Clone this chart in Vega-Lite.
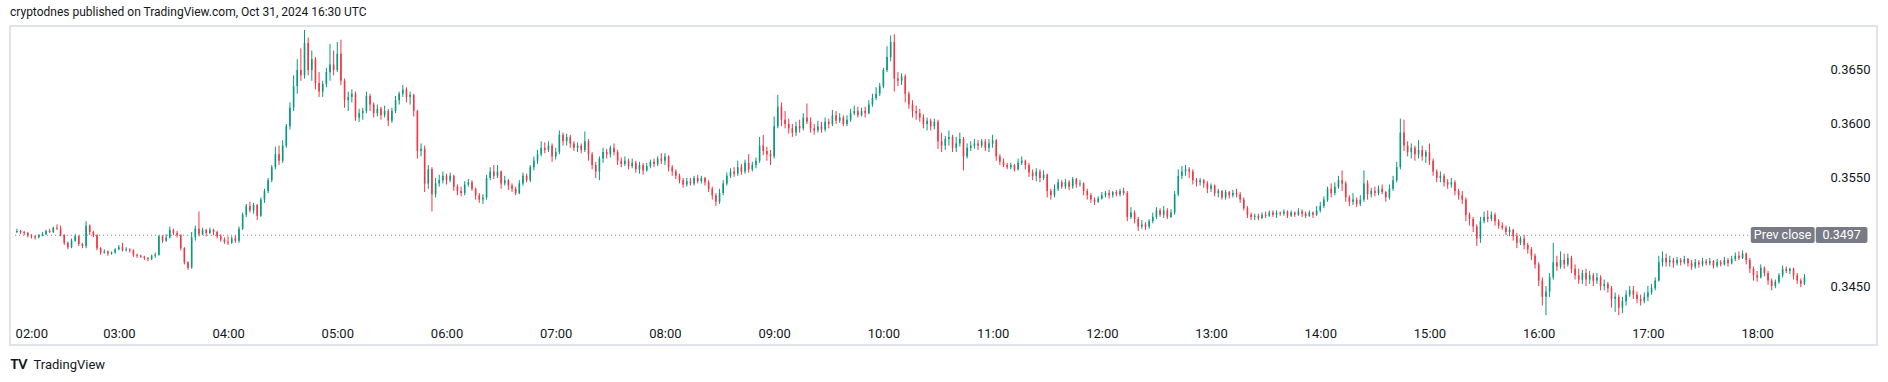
{
"$schema": "https://vega.github.io/schema/vega-lite/v6.json",
"width": 1867,
"height": 319,
"autosize": {"type": "none"},
"padding": {"left": 10, "top": 26, "right": 11, "bottom": 37},
"background": "#ffffff",
"title": {"text": "cryptodnes published on TradingView.com, Oct 31, 2024 16:30 UTC", "anchor": "start", "frame": "group", "offset": 7, "fontSize": 12, "fontWeight": "normal", "color": "#131722", "font": "Roboto"},
"config": {"font": "Roboto", "view": {"stroke": "#e0e3eb", "strokeWidth": 2}},
"datasets": {
"k": [
{"t":124,"o":3500,"h":3503,"l":3499,"c":3501},
{"t":126,"o":3501,"h":3502,"l":3498,"c":3500},
{"t":128,"o":3500,"h":3501,"l":3497,"c":3499},
{"t":130,"o":3499,"h":3500,"l":3495,"c":3497},
{"t":132,"o":3497,"h":3498,"l":3494,"c":3496},
{"t":134,"o":3496,"h":3497,"l":3493,"c":3495},
{"t":136,"o":3495,"h":3498,"l":3494,"c":3497},
{"t":138,"o":3497,"h":3500,"l":3496,"c":3498},
{"t":140,"o":3498,"h":3502,"l":3497,"c":3501},
{"t":142,"o":3501,"h":3503,"l":3499,"c":3500},
{"t":144,"o":3500,"h":3505,"l":3499,"c":3504},
{"t":146,"o":3504,"h":3507,"l":3502,"c":3503},
{"t":148,"o":3503,"h":3506,"l":3496,"c":3497},
{"t":150,"o":3497,"h":3498,"l":3488,"c":3490},
{"t":152,"o":3490,"h":3491,"l":3484,"c":3486},
{"t":154,"o":3486,"h":3494,"l":3485,"c":3492},
{"t":156,"o":3492,"h":3498,"l":3491,"c":3496},
{"t":158,"o":3496,"h":3497,"l":3487,"c":3489},
{"t":160,"o":3489,"h":3490,"l":3485,"c":3487},
{"t":162,"o":3487,"h":3510,"l":3485,"c":3506},
{"t":164,"o":3506,"h":3507,"l":3497,"c":3500},
{"t":166,"o":3500,"h":3501,"l":3495,"c":3497},
{"t":168,"o":3497,"h":3498,"l":3483,"c":3485},
{"t":170,"o":3485,"h":3486,"l":3479,"c":3481},
{"t":172,"o":3481,"h":3484,"l":3480,"c":3482},
{"t":174,"o":3482,"h":3483,"l":3478,"c":3480},
{"t":176,"o":3480,"h":3482,"l":3479,"c":3481},
{"t":178,"o":3481,"h":3485,"l":3480,"c":3484},
{"t":180,"o":3484,"h":3488,"l":3483,"c":3486},
{"t":182,"o":3486,"h":3490,"l":3482,"c":3483},
{"t":184,"o":3483,"h":3486,"l":3482,"c":3484},
{"t":186,"o":3484,"h":3485,"l":3481,"c":3483},
{"t":188,"o":3483,"h":3484,"l":3477,"c":3479},
{"t":190,"o":3479,"h":3480,"l":3476,"c":3478},
{"t":192,"o":3478,"h":3479,"l":3476,"c":3477},
{"t":194,"o":3477,"h":3478,"l":3474,"c":3476},
{"t":196,"o":3476,"h":3477,"l":3473,"c":3475},
{"t":198,"o":3475,"h":3479,"l":3474,"c":3478},
{"t":200,"o":3478,"h":3481,"l":3476,"c":3479},
{"t":202,"o":3479,"h":3497,"l":3478,"c":3496},
{"t":204,"o":3496,"h":3497,"l":3490,"c":3492},
{"t":206,"o":3492,"h":3498,"l":3491,"c":3495},
{"t":208,"o":3495,"h":3505,"l":3494,"c":3502},
{"t":210,"o":3502,"h":3503,"l":3497,"c":3499},
{"t":212,"o":3499,"h":3501,"l":3495,"c":3497},
{"t":214,"o":3497,"h":3498,"l":3483,"c":3485},
{"t":216,"o":3485,"h":3486,"l":3470,"c":3472},
{"t":218,"o":3472,"h":3473,"l":3465,"c":3467},
{"t":220,"o":3467,"h":3500,"l":3466,"c":3495},
{"t":222,"o":3495,"h":3506,"l":3492,"c":3503},
{"t":224,"o":3503,"h":3519,"l":3496,"c":3498},
{"t":226,"o":3498,"h":3504,"l":3497,"c":3502},
{"t":228,"o":3502,"h":3503,"l":3496,"c":3499},
{"t":230,"o":3499,"h":3504,"l":3498,"c":3502},
{"t":232,"o":3502,"h":3503,"l":3497,"c":3500},
{"t":234,"o":3500,"h":3501,"l":3494,"c":3496},
{"t":236,"o":3496,"h":3498,"l":3491,"c":3493},
{"t":238,"o":3493,"h":3495,"l":3489,"c":3491},
{"t":240,"o":3491,"h":3496,"l":3488,"c":3490},
{"t":242,"o":3490,"h":3496,"l":3489,"c":3494},
{"t":244,"o":3494,"h":3497,"l":3490,"c":3492},
{"t":246,"o":3492,"h":3505,"l":3490,"c":3503},
{"t":248,"o":3503,"h":3518,"l":3502,"c":3516},
{"t":250,"o":3516,"h":3526,"l":3514,"c":3524},
{"t":252,"o":3524,"h":3528,"l":3518,"c":3520},
{"t":254,"o":3520,"h":3527,"l":3517,"c":3525},
{"t":256,"o":3525,"h":3526,"l":3511,"c":3515},
{"t":258,"o":3515,"h":3532,"l":3514,"c":3530},
{"t":260,"o":3530,"h":3540,"l":3527,"c":3538},
{"t":262,"o":3538,"h":3550,"l":3536,"c":3548},
{"t":264,"o":3548,"h":3562,"l":3546,"c":3560},
{"t":266,"o":3560,"h":3579,"l":3558,"c":3572},
{"t":268,"o":3572,"h":3580,"l":3562,"c":3566},
{"t":270,"o":3566,"h":3585,"l":3564,"c":3580},
{"t":272,"o":3580,"h":3600,"l":3578,"c":3598},
{"t":274,"o":3598,"h":3620,"l":3595,"c":3615},
{"t":276,"o":3615,"h":3645,"l":3612,"c":3635},
{"t":278,"o":3635,"h":3660,"l":3628,"c":3650},
{"t":280,"o":3650,"h":3670,"l":3640,"c":3645},
{"t":282,"o":3645,"h":3687,"l":3642,"c":3675},
{"t":284,"o":3675,"h":3680,"l":3645,"c":3650},
{"t":286,"o":3650,"h":3668,"l":3640,"c":3660},
{"t":288,"o":3660,"h":3662,"l":3632,"c":3638},
{"t":290,"o":3638,"h":3648,"l":3625,"c":3630},
{"t":292,"o":3630,"h":3640,"l":3625,"c":3637},
{"t":294,"o":3637,"h":3652,"l":3634,"c":3648},
{"t":296,"o":3648,"h":3674,"l":3640,"c":3655},
{"t":298,"o":3655,"h":3668,"l":3645,"c":3650},
{"t":300,"o":3650,"h":3676,"l":3648,"c":3665},
{"t":302,"o":3665,"h":3678,"l":3636,"c":3640},
{"t":304,"o":3640,"h":3642,"l":3615,"c":3622},
{"t":306,"o":3622,"h":3630,"l":3612,"c":3625},
{"t":308,"o":3625,"h":3632,"l":3620,"c":3628},
{"t":310,"o":3628,"h":3630,"l":3603,"c":3606},
{"t":312,"o":3606,"h":3614,"l":3602,"c":3610},
{"t":314,"o":3610,"h":3615,"l":3604,"c":3612},
{"t":316,"o":3612,"h":3630,"l":3610,"c":3626},
{"t":318,"o":3626,"h":3628,"l":3612,"c":3618},
{"t":320,"o":3618,"h":3620,"l":3606,"c":3610},
{"t":322,"o":3610,"h":3618,"l":3607,"c":3614},
{"t":324,"o":3614,"h":3616,"l":3604,"c":3608},
{"t":326,"o":3608,"h":3617,"l":3606,"c":3612},
{"t":328,"o":3612,"h":3614,"l":3598,"c":3603},
{"t":330,"o":3603,"h":3615,"l":3601,"c":3612},
{"t":332,"o":3612,"h":3626,"l":3610,"c":3622},
{"t":334,"o":3622,"h":3630,"l":3618,"c":3628},
{"t":336,"o":3628,"h":3636,"l":3625,"c":3632},
{"t":338,"o":3632,"h":3634,"l":3620,"c":3625},
{"t":340,"o":3625,"h":3630,"l":3618,"c":3627},
{"t":342,"o":3627,"h":3628,"l":3607,"c":3612},
{"t":344,"o":3612,"h":3613,"l":3568,"c":3575},
{"t":346,"o":3575,"h":3582,"l":3570,"c":3577},
{"t":348,"o":3577,"h":3580,"l":3537,"c":3545},
{"t":350,"o":3545,"h":3562,"l":3540,"c":3558},
{"t":352,"o":3558,"h":3560,"l":3519,"c":3535},
{"t":354,"o":3535,"h":3550,"l":3532,"c":3545},
{"t":356,"o":3545,"h":3553,"l":3542,"c":3548},
{"t":358,"o":3548,"h":3556,"l":3545,"c":3552},
{"t":360,"o":3552,"h":3554,"l":3544,"c":3548},
{"t":362,"o":3548,"h":3555,"l":3546,"c":3552},
{"t":364,"o":3552,"h":3553,"l":3538,"c":3542},
{"t":366,"o":3542,"h":3544,"l":3534,"c":3538},
{"t":368,"o":3538,"h":3542,"l":3533,"c":3536},
{"t":370,"o":3536,"h":3547,"l":3534,"c":3544},
{"t":372,"o":3544,"h":3549,"l":3542,"c":3546},
{"t":374,"o":3546,"h":3548,"l":3538,"c":3540},
{"t":376,"o":3540,"h":3541,"l":3530,"c":3534},
{"t":378,"o":3534,"h":3536,"l":3527,"c":3530},
{"t":380,"o":3530,"h":3535,"l":3526,"c":3532},
{"t":382,"o":3532,"h":3553,"l":3530,"c":3550},
{"t":384,"o":3550,"h":3560,"l":3548,"c":3556},
{"t":386,"o":3556,"h":3562,"l":3549,"c":3552},
{"t":388,"o":3552,"h":3562,"l":3550,"c":3556},
{"t":390,"o":3556,"h":3557,"l":3540,"c":3545},
{"t":392,"o":3545,"h":3552,"l":3543,"c":3548},
{"t":394,"o":3548,"h":3549,"l":3539,"c":3543},
{"t":396,"o":3543,"h":3545,"l":3537,"c":3540},
{"t":398,"o":3540,"h":3542,"l":3534,"c":3536},
{"t":400,"o":3536,"h":3548,"l":3535,"c":3545},
{"t":402,"o":3545,"h":3555,"l":3543,"c":3552},
{"t":404,"o":3552,"h":3554,"l":3546,"c":3548},
{"t":406,"o":3548,"h":3562,"l":3546,"c":3560},
{"t":408,"o":3560,"h":3570,"l":3557,"c":3566},
{"t":410,"o":3566,"h":3576,"l":3563,"c":3572},
{"t":412,"o":3572,"h":3584,"l":3570,"c":3578},
{"t":414,"o":3578,"h":3583,"l":3573,"c":3576},
{"t":416,"o":3576,"h":3584,"l":3574,"c":3580},
{"t":418,"o":3580,"h":3582,"l":3565,"c":3570},
{"t":420,"o":3570,"h":3578,"l":3567,"c":3574},
{"t":422,"o":3574,"h":3594,"l":3572,"c":3590},
{"t":424,"o":3590,"h":3592,"l":3580,"c":3584},
{"t":426,"o":3584,"h":3591,"l":3580,"c":3588},
{"t":428,"o":3588,"h":3590,"l":3578,"c":3582},
{"t":430,"o":3582,"h":3584,"l":3575,"c":3578},
{"t":432,"o":3578,"h":3583,"l":3574,"c":3580},
{"t":434,"o":3580,"h":3582,"l":3573,"c":3576},
{"t":436,"o":3576,"h":3593,"l":3574,"c":3584},
{"t":438,"o":3584,"h":3586,"l":3566,"c":3572},
{"t":440,"o":3572,"h":3574,"l":3558,"c":3562},
{"t":442,"o":3562,"h":3565,"l":3550,"c":3556},
{"t":444,"o":3556,"h":3570,"l":3548,"c":3568},
{"t":446,"o":3568,"h":3578,"l":3564,"c":3574},
{"t":448,"o":3574,"h":3577,"l":3568,"c":3572},
{"t":450,"o":3572,"h":3580,"l":3569,"c":3578},
{"t":452,"o":3578,"h":3582,"l":3571,"c":3574},
{"t":454,"o":3574,"h":3576,"l":3562,"c":3566},
{"t":456,"o":3566,"h":3569,"l":3560,"c":3563},
{"t":458,"o":3563,"h":3570,"l":3561,"c":3566},
{"t":460,"o":3566,"h":3568,"l":3558,"c":3561},
{"t":462,"o":3561,"h":3568,"l":3559,"c":3564},
{"t":464,"o":3564,"h":3566,"l":3555,"c":3558},
{"t":466,"o":3558,"h":3565,"l":3554,"c":3562},
{"t":468,"o":3562,"h":3564,"l":3553,"c":3557},
{"t":470,"o":3557,"h":3564,"l":3556,"c":3561},
{"t":472,"o":3561,"h":3567,"l":3559,"c":3565},
{"t":474,"o":3565,"h":3568,"l":3560,"c":3563},
{"t":476,"o":3563,"h":3570,"l":3561,"c":3568},
{"t":478,"o":3568,"h":3573,"l":3563,"c":3566},
{"t":480,"o":3566,"h":3573,"l":3562,"c":3570},
{"t":482,"o":3570,"h":3571,"l":3556,"c":3560},
{"t":484,"o":3560,"h":3562,"l":3552,"c":3556},
{"t":486,"o":3556,"h":3558,"l":3549,"c":3552},
{"t":488,"o":3552,"h":3554,"l":3545,"c":3548},
{"t":490,"o":3548,"h":3550,"l":3541,"c":3544},
{"t":492,"o":3544,"h":3550,"l":3542,"c":3547},
{"t":494,"o":3547,"h":3550,"l":3543,"c":3545},
{"t":496,"o":3545,"h":3552,"l":3543,"c":3550},
{"t":498,"o":3550,"h":3553,"l":3545,"c":3547},
{"t":500,"o":3547,"h":3552,"l":3545,"c":3550},
{"t":502,"o":3550,"h":3551,"l":3543,"c":3546},
{"t":504,"o":3546,"h":3548,"l":3537,"c":3540},
{"t":506,"o":3540,"h":3542,"l":3530,"c":3534},
{"t":508,"o":3534,"h":3536,"l":3524,"c":3528},
{"t":510,"o":3528,"h":3540,"l":3526,"c":3536},
{"t":512,"o":3536,"h":3548,"l":3534,"c":3545},
{"t":514,"o":3545,"h":3555,"l":3543,"c":3552},
{"t":516,"o":3552,"h":3559,"l":3550,"c":3556},
{"t":518,"o":3556,"h":3560,"l":3551,"c":3554},
{"t":520,"o":3554,"h":3566,"l":3552,"c":3560},
{"t":522,"o":3560,"h":3563,"l":3553,"c":3556},
{"t":524,"o":3556,"h":3567,"l":3554,"c":3564},
{"t":526,"o":3564,"h":3572,"l":3555,"c":3558},
{"t":528,"o":3558,"h":3565,"l":3556,"c":3562},
{"t":530,"o":3562,"h":3569,"l":3559,"c":3566},
{"t":532,"o":3566,"h":3588,"l":3564,"c":3580},
{"t":534,"o":3580,"h":3590,"l":3571,"c":3575},
{"t":536,"o":3575,"h":3579,"l":3566,"c":3572},
{"t":538,"o":3572,"h":3576,"l":3562,"c":3570},
{"t":540,"o":3570,"h":3607,"l":3568,"c":3598},
{"t":542,"o":3598,"h":3627,"l":3596,"c":3616},
{"t":544,"o":3616,"h":3620,"l":3598,"c":3604},
{"t":546,"o":3604,"h":3612,"l":3596,"c":3600},
{"t":548,"o":3600,"h":3605,"l":3591,"c":3596},
{"t":550,"o":3596,"h":3600,"l":3588,"c":3592},
{"t":552,"o":3592,"h":3602,"l":3589,"c":3598},
{"t":554,"o":3598,"h":3604,"l":3592,"c":3596},
{"t":556,"o":3596,"h":3610,"l":3594,"c":3606},
{"t":558,"o":3606,"h":3619,"l":3600,"c":3602},
{"t":560,"o":3602,"h":3606,"l":3592,"c":3596},
{"t":562,"o":3596,"h":3600,"l":3590,"c":3594},
{"t":564,"o":3594,"h":3603,"l":3592,"c":3598},
{"t":566,"o":3598,"h":3602,"l":3592,"c":3595},
{"t":568,"o":3595,"h":3606,"l":3593,"c":3602},
{"t":570,"o":3602,"h":3605,"l":3596,"c":3600},
{"t":572,"o":3600,"h":3613,"l":3598,"c":3608},
{"t":574,"o":3608,"h":3612,"l":3600,"c":3603},
{"t":576,"o":3603,"h":3610,"l":3601,"c":3606},
{"t":578,"o":3606,"h":3608,"l":3598,"c":3600},
{"t":580,"o":3600,"h":3608,"l":3598,"c":3604},
{"t":582,"o":3604,"h":3614,"l":3602,"c":3610},
{"t":584,"o":3610,"h":3617,"l":3608,"c":3612},
{"t":586,"o":3612,"h":3616,"l":3606,"c":3608},
{"t":588,"o":3608,"h":3615,"l":3607,"c":3612},
{"t":590,"o":3612,"h":3616,"l":3606,"c":3610},
{"t":592,"o":3610,"h":3622,"l":3609,"c":3618},
{"t":594,"o":3618,"h":3628,"l":3616,"c":3624},
{"t":596,"o":3624,"h":3634,"l":3622,"c":3628},
{"t":598,"o":3628,"h":3638,"l":3626,"c":3635},
{"t":600,"o":3635,"h":3652,"l":3633,"c":3650},
{"t":602,"o":3650,"h":3672,"l":3648,"c":3662},
{"t":604,"o":3662,"h":3682,"l":3658,"c":3676},
{"t":606,"o":3676,"h":3683,"l":3630,"c":3642},
{"t":608,"o":3642,"h":3648,"l":3635,"c":3640},
{"t":610,"o":3640,"h":3647,"l":3636,"c":3644},
{"t":612,"o":3644,"h":3646,"l":3620,"c":3628},
{"t":614,"o":3628,"h":3630,"l":3614,"c":3618},
{"t":616,"o":3618,"h":3622,"l":3606,"c":3612},
{"t":618,"o":3612,"h":3617,"l":3604,"c":3610},
{"t":620,"o":3610,"h":3614,"l":3602,"c":3606},
{"t":622,"o":3606,"h":3609,"l":3596,"c":3600},
{"t":624,"o":3600,"h":3606,"l":3594,"c":3603},
{"t":626,"o":3603,"h":3605,"l":3594,"c":3598},
{"t":628,"o":3598,"h":3605,"l":3595,"c":3602},
{"t":630,"o":3602,"h":3604,"l":3577,"c":3584},
{"t":632,"o":3584,"h":3592,"l":3574,"c":3580},
{"t":634,"o":3580,"h":3589,"l":3576,"c":3586},
{"t":636,"o":3586,"h":3594,"l":3580,"c":3588},
{"t":638,"o":3588,"h":3590,"l":3574,"c":3578},
{"t":640,"o":3578,"h":3588,"l":3574,"c":3582},
{"t":642,"o":3582,"h":3592,"l":3579,"c":3586},
{"t":644,"o":3586,"h":3588,"l":3557,"c":3570},
{"t":646,"o":3570,"h":3582,"l":3568,"c":3578},
{"t":648,"o":3578,"h":3584,"l":3575,"c":3580},
{"t":650,"o":3580,"h":3586,"l":3577,"c":3582},
{"t":652,"o":3582,"h":3585,"l":3576,"c":3580},
{"t":654,"o":3580,"h":3586,"l":3578,"c":3584},
{"t":656,"o":3584,"h":3586,"l":3575,"c":3578},
{"t":658,"o":3578,"h":3586,"l":3574,"c":3582},
{"t":660,"o":3582,"h":3590,"l":3578,"c":3585},
{"t":662,"o":3585,"h":3586,"l":3566,"c":3570},
{"t":664,"o":3570,"h":3572,"l":3562,"c":3565},
{"t":666,"o":3565,"h":3568,"l":3560,"c":3562},
{"t":668,"o":3562,"h":3564,"l":3558,"c":3560},
{"t":670,"o":3560,"h":3564,"l":3558,"c":3562},
{"t":672,"o":3562,"h":3563,"l":3556,"c":3558},
{"t":674,"o":3558,"h":3568,"l":3557,"c":3564},
{"t":676,"o":3564,"h":3570,"l":3562,"c":3566},
{"t":678,"o":3566,"h":3567,"l":3558,"c":3562},
{"t":680,"o":3562,"h":3564,"l":3551,"c":3555},
{"t":682,"o":3555,"h":3558,"l":3548,"c":3552},
{"t":684,"o":3552,"h":3559,"l":3547,"c":3556},
{"t":686,"o":3556,"h":3558,"l":3546,"c":3550},
{"t":688,"o":3550,"h":3557,"l":3548,"c":3553},
{"t":690,"o":3553,"h":3554,"l":3532,"c":3538},
{"t":692,"o":3538,"h":3540,"l":3530,"c":3534},
{"t":694,"o":3534,"h":3544,"l":3532,"c":3540},
{"t":696,"o":3540,"h":3549,"l":3538,"c":3546},
{"t":698,"o":3546,"h":3548,"l":3540,"c":3542},
{"t":700,"o":3542,"h":3549,"l":3540,"c":3546},
{"t":702,"o":3546,"h":3548,"l":3539,"c":3542},
{"t":704,"o":3542,"h":3551,"l":3540,"c":3549},
{"t":706,"o":3549,"h":3550,"l":3541,"c":3544},
{"t":708,"o":3544,"h":3548,"l":3542,"c":3545},
{"t":710,"o":3545,"h":3546,"l":3534,"c":3538},
{"t":712,"o":3538,"h":3540,"l":3530,"c":3534},
{"t":714,"o":3534,"h":3536,"l":3527,"c":3530},
{"t":716,"o":3530,"h":3532,"l":3525,"c":3528},
{"t":718,"o":3528,"h":3533,"l":3527,"c":3531},
{"t":720,"o":3531,"h":3537,"l":3530,"c":3534},
{"t":722,"o":3534,"h":3538,"l":3532,"c":3536},
{"t":724,"o":3536,"h":3539,"l":3531,"c":3534},
{"t":726,"o":3534,"h":3538,"l":3532,"c":3537},
{"t":728,"o":3537,"h":3539,"l":3533,"c":3535},
{"t":730,"o":3535,"h":3540,"l":3533,"c":3538},
{"t":732,"o":3538,"h":3541,"l":3534,"c":3536},
{"t":734,"o":3536,"h":3538,"l":3510,"c":3514},
{"t":736,"o":3514,"h":3523,"l":3512,"c":3518},
{"t":738,"o":3518,"h":3520,"l":3508,"c":3512},
{"t":740,"o":3512,"h":3514,"l":3501,"c":3505},
{"t":742,"o":3505,"h":3511,"l":3503,"c":3507},
{"t":744,"o":3507,"h":3509,"l":3502,"c":3505},
{"t":746,"o":3505,"h":3512,"l":3503,"c":3510},
{"t":748,"o":3510,"h":3518,"l":3508,"c":3514},
{"t":750,"o":3514,"h":3523,"l":3512,"c":3520},
{"t":752,"o":3520,"h":3522,"l":3514,"c":3516},
{"t":754,"o":3516,"h":3524,"l":3513,"c":3520},
{"t":756,"o":3520,"h":3522,"l":3512,"c":3514},
{"t":758,"o":3514,"h":3521,"l":3513,"c":3518},
{"t":760,"o":3518,"h":3538,"l":3516,"c":3535},
{"t":762,"o":3535,"h":3558,"l":3533,"c":3552},
{"t":764,"o":3552,"h":3561,"l":3549,"c":3556},
{"t":766,"o":3556,"h":3562,"l":3552,"c":3558},
{"t":768,"o":3558,"h":3560,"l":3550,"c":3556},
{"t":770,"o":3556,"h":3558,"l":3544,"c":3548},
{"t":772,"o":3548,"h":3550,"l":3542,"c":3546},
{"t":774,"o":3546,"h":3550,"l":3543,"c":3548},
{"t":776,"o":3548,"h":3549,"l":3541,"c":3545},
{"t":778,"o":3545,"h":3547,"l":3536,"c":3540},
{"t":780,"o":3540,"h":3545,"l":3537,"c":3543},
{"t":782,"o":3543,"h":3544,"l":3533,"c":3536},
{"t":784,"o":3536,"h":3540,"l":3532,"c":3538},
{"t":786,"o":3538,"h":3539,"l":3530,"c":3532},
{"t":788,"o":3532,"h":3539,"l":3530,"c":3537},
{"t":790,"o":3537,"h":3538,"l":3531,"c":3534},
{"t":792,"o":3534,"h":3539,"l":3532,"c":3536},
{"t":794,"o":3536,"h":3540,"l":3532,"c":3535},
{"t":796,"o":3535,"h":3537,"l":3527,"c":3530},
{"t":798,"o":3530,"h":3532,"l":3520,"c":3522},
{"t":800,"o":3522,"h":3524,"l":3513,"c":3516},
{"t":802,"o":3516,"h":3518,"l":3511,"c":3514},
{"t":804,"o":3514,"h":3517,"l":3511,"c":3515},
{"t":806,"o":3515,"h":3517,"l":3511,"c":3513},
{"t":808,"o":3513,"h":3518,"l":3512,"c":3516},
{"t":810,"o":3516,"h":3519,"l":3513,"c":3515},
{"t":812,"o":3515,"h":3520,"l":3514,"c":3518},
{"t":814,"o":3518,"h":3520,"l":3514,"c":3516},
{"t":816,"o":3516,"h":3520,"l":3513,"c":3518},
{"t":818,"o":3518,"h":3519,"l":3515,"c":3517},
{"t":820,"o":3517,"h":3521,"l":3515,"c":3519},
{"t":822,"o":3519,"h":3520,"l":3513,"c":3515},
{"t":824,"o":3515,"h":3520,"l":3514,"c":3518},
{"t":826,"o":3518,"h":3519,"l":3514,"c":3516},
{"t":828,"o":3516,"h":3522,"l":3515,"c":3519},
{"t":830,"o":3519,"h":3521,"l":3514,"c":3517},
{"t":832,"o":3517,"h":3519,"l":3513,"c":3515},
{"t":834,"o":3515,"h":3520,"l":3514,"c":3518},
{"t":836,"o":3518,"h":3519,"l":3513,"c":3516},
{"t":838,"o":3516,"h":3524,"l":3515,"c":3520},
{"t":840,"o":3520,"h":3528,"l":3518,"c":3524},
{"t":842,"o":3524,"h":3533,"l":3522,"c":3530},
{"t":844,"o":3530,"h":3542,"l":3528,"c":3540},
{"t":846,"o":3540,"h":3545,"l":3532,"c":3536},
{"t":848,"o":3536,"h":3546,"l":3534,"c":3542},
{"t":850,"o":3542,"h":3552,"l":3540,"c":3548},
{"t":852,"o":3548,"h":3557,"l":3538,"c":3545},
{"t":854,"o":3545,"h":3547,"l":3528,"c":3532},
{"t":856,"o":3532,"h":3534,"l":3524,"c":3528},
{"t":858,"o":3528,"h":3536,"l":3525,"c":3530},
{"t":860,"o":3530,"h":3532,"l":3523,"c":3526},
{"t":862,"o":3526,"h":3534,"l":3524,"c":3530},
{"t":864,"o":3530,"h":3557,"l":3528,"c":3545},
{"t":866,"o":3545,"h":3548,"l":3530,"c":3535},
{"t":868,"o":3535,"h":3541,"l":3532,"c":3538},
{"t":870,"o":3538,"h":3542,"l":3533,"c":3536},
{"t":872,"o":3536,"h":3543,"l":3534,"c":3540},
{"t":874,"o":3540,"h":3544,"l":3535,"c":3537},
{"t":876,"o":3537,"h":3538,"l":3528,"c":3532},
{"t":878,"o":3532,"h":3544,"l":3530,"c":3540},
{"t":880,"o":3540,"h":3552,"l":3538,"c":3548},
{"t":882,"o":3548,"h":3565,"l":3546,"c":3560},
{"t":884,"o":3560,"h":3605,"l":3558,"c":3592},
{"t":886,"o":3592,"h":3604,"l":3575,"c":3580},
{"t":888,"o":3580,"h":3584,"l":3570,"c":3574},
{"t":890,"o":3574,"h":3582,"l":3568,"c":3578},
{"t":892,"o":3578,"h":3580,"l":3566,"c":3572},
{"t":894,"o":3572,"h":3585,"l":3568,"c":3576},
{"t":896,"o":3576,"h":3580,"l":3566,"c":3570},
{"t":898,"o":3570,"h":3576,"l":3564,"c":3574},
{"t":900,"o":3574,"h":3582,"l":3562,"c":3566},
{"t":902,"o":3566,"h":3568,"l":3552,"c":3556},
{"t":904,"o":3556,"h":3558,"l":3546,"c":3550},
{"t":906,"o":3550,"h":3556,"l":3546,"c":3552},
{"t":908,"o":3552,"h":3554,"l":3542,"c":3546},
{"t":910,"o":3546,"h":3549,"l":3540,"c":3544},
{"t":912,"o":3544,"h":3550,"l":3541,"c":3546},
{"t":914,"o":3546,"h":3548,"l":3534,"c":3538},
{"t":916,"o":3538,"h":3540,"l":3530,"c":3534},
{"t":918,"o":3534,"h":3538,"l":3526,"c":3530},
{"t":920,"o":3530,"h":3532,"l":3510,"c":3516},
{"t":922,"o":3516,"h":3518,"l":3506,"c":3512},
{"t":924,"o":3512,"h":3514,"l":3500,"c":3505},
{"t":926,"o":3505,"h":3507,"l":3487,"c":3494},
{"t":928,"o":3494,"h":3514,"l":3490,"c":3510},
{"t":930,"o":3510,"h":3519,"l":3508,"c":3514},
{"t":932,"o":3514,"h":3520,"l":3509,"c":3512},
{"t":934,"o":3512,"h":3519,"l":3510,"c":3516},
{"t":936,"o":3516,"h":3518,"l":3506,"c":3510},
{"t":938,"o":3510,"h":3512,"l":3503,"c":3506},
{"t":940,"o":3506,"h":3509,"l":3502,"c":3504},
{"t":942,"o":3504,"h":3506,"l":3497,"c":3500},
{"t":944,"o":3500,"h":3505,"l":3496,"c":3502},
{"t":946,"o":3502,"h":3503,"l":3492,"c":3496},
{"t":948,"o":3496,"h":3499,"l":3485,"c":3490},
{"t":950,"o":3490,"h":3496,"l":3488,"c":3494},
{"t":952,"o":3494,"h":3497,"l":3484,"c":3488},
{"t":954,"o":3488,"h":3490,"l":3480,"c":3484},
{"t":956,"o":3484,"h":3486,"l":3474,"c":3478},
{"t":958,"o":3478,"h":3480,"l":3466,"c":3470},
{"t":960,"o":3470,"h":3472,"l":3450,"c":3455},
{"t":962,"o":3455,"h":3458,"l":3432,"c":3440},
{"t":964,"o":3440,"h":3450,"l":3423,"c":3445},
{"t":966,"o":3445,"h":3462,"l":3440,"c":3458},
{"t":968,"o":3458,"h":3490,"l":3456,"c":3472},
{"t":970,"o":3472,"h":3478,"l":3464,"c":3468},
{"t":972,"o":3468,"h":3482,"l":3466,"c":3474},
{"t":974,"o":3474,"h":3480,"l":3466,"c":3470},
{"t":976,"o":3470,"h":3480,"l":3468,"c":3476},
{"t":978,"o":3476,"h":3478,"l":3462,"c":3466},
{"t":980,"o":3466,"h":3470,"l":3456,"c":3460},
{"t":982,"o":3460,"h":3466,"l":3452,"c":3456},
{"t":984,"o":3456,"h":3465,"l":3452,"c":3462},
{"t":986,"o":3462,"h":3466,"l":3450,"c":3456},
{"t":988,"o":3456,"h":3464,"l":3452,"c":3460},
{"t":990,"o":3460,"h":3462,"l":3450,"c":3455},
{"t":992,"o":3455,"h":3462,"l":3452,"c":3458},
{"t":994,"o":3458,"h":3460,"l":3446,"c":3450},
{"t":996,"o":3450,"h":3456,"l":3446,"c":3452},
{"t":998,"o":3452,"h":3454,"l":3444,"c":3448},
{"t":1000,"o":3448,"h":3450,"l":3430,"c":3438},
{"t":1002,"o":3438,"h":3444,"l":3426,"c":3440},
{"t":1004,"o":3440,"h":3442,"l":3423,"c":3430},
{"t":1006,"o":3430,"h":3440,"l":3425,"c":3436},
{"t":1008,"o":3436,"h":3446,"l":3432,"c":3442},
{"t":1010,"o":3442,"h":3450,"l":3440,"c":3446},
{"t":1012,"o":3446,"h":3450,"l":3438,"c":3442},
{"t":1014,"o":3442,"h":3445,"l":3434,"c":3438},
{"t":1016,"o":3438,"h":3442,"l":3432,"c":3436},
{"t":1018,"o":3436,"h":3444,"l":3434,"c":3440},
{"t":1020,"o":3440,"h":3450,"l":3436,"c":3444},
{"t":1022,"o":3444,"h":3452,"l":3442,"c":3448},
{"t":1024,"o":3448,"h":3458,"l":3446,"c":3455},
{"t":1026,"o":3455,"h":3478,"l":3454,"c":3472},
{"t":1028,"o":3472,"h":3482,"l":3468,"c":3476},
{"t":1030,"o":3476,"h":3480,"l":3468,"c":3472},
{"t":1032,"o":3472,"h":3478,"l":3468,"c":3474},
{"t":1034,"o":3474,"h":3476,"l":3467,"c":3471},
{"t":1036,"o":3471,"h":3477,"l":3469,"c":3474},
{"t":1038,"o":3474,"h":3476,"l":3469,"c":3472},
{"t":1040,"o":3472,"h":3478,"l":3470,"c":3475},
{"t":1042,"o":3475,"h":3476,"l":3468,"c":3471},
{"t":1044,"o":3471,"h":3474,"l":3465,"c":3468},
{"t":1046,"o":3468,"h":3475,"l":3466,"c":3472},
{"t":1048,"o":3472,"h":3474,"l":3467,"c":3470},
{"t":1050,"o":3470,"h":3476,"l":3468,"c":3473},
{"t":1052,"o":3473,"h":3475,"l":3469,"c":3471},
{"t":1054,"o":3471,"h":3476,"l":3469,"c":3473},
{"t":1056,"o":3473,"h":3474,"l":3466,"c":3469},
{"t":1058,"o":3469,"h":3475,"l":3467,"c":3472},
{"t":1060,"o":3472,"h":3474,"l":3468,"c":3470},
{"t":1062,"o":3470,"h":3477,"l":3469,"c":3474},
{"t":1064,"o":3474,"h":3476,"l":3468,"c":3471},
{"t":1066,"o":3471,"h":3478,"l":3470,"c":3475},
{"t":1068,"o":3475,"h":3481,"l":3473,"c":3478},
{"t":1070,"o":3478,"h":3482,"l":3474,"c":3476},
{"t":1072,"o":3476,"h":3483,"l":3475,"c":3480},
{"t":1074,"o":3480,"h":3481,"l":3470,"c":3474},
{"t":1076,"o":3474,"h":3476,"l":3462,"c":3466},
{"t":1078,"o":3466,"h":3468,"l":3455,"c":3460},
{"t":1080,"o":3460,"h":3464,"l":3454,"c":3458},
{"t":1082,"o":3458,"h":3470,"l":3457,"c":3467},
{"t":1084,"o":3467,"h":3468,"l":3459,"c":3462},
{"t":1086,"o":3462,"h":3464,"l":3451,"c":3455},
{"t":1088,"o":3455,"h":3457,"l":3446,"c":3450},
{"t":1090,"o":3450,"h":3456,"l":3448,"c":3454},
{"t":1092,"o":3454,"h":3462,"l":3452,"c":3460},
{"t":1094,"o":3460,"h":3469,"l":3458,"c":3466},
{"t":1096,"o":3466,"h":3468,"l":3462,"c":3464},
{"t":1098,"o":3464,"h":3467,"l":3461,"c":3466},
{"t":1100,"o":3466,"h":3467,"l":3456,"c":3460},
{"t":1102,"o":3460,"h":3462,"l":3452,"c":3455},
{"t":1104,"o":3455,"h":3457,"l":3449,"c":3452},
{"t":1106,"o":3452,"h":3461,"l":3451,"c":3458}
],
"pc": [{"p": 3497, "name": "Prev close", "val": "0.3497"}]
},
"layer": [
{
"data": {"name": "pc"},
"mark": {"type": "rule", "color": "#787b86", "strokeWidth": 1, "strokeDash": [1, 3]},
"encoding": {
"x": {"datum": 123, "type": "quantitative", "scale": {"domain": [122.95, 1143.1], "nice": false, "zero": false}},
"x2": {"datum": 1075.4},
"y": {"field": "p", "type": "quantitative", "scale": {"domain": [3395.4, 3690.7], "nice": false, "zero": false}}
}
},
{
"data": {"name": "k"},
"mark": {"type": "rule", "strokeWidth": 1},
"encoding": {
"x": {"field": "t", "type": "quantitative", "scale": {"domain": [122.95, 1143.1], "nice": false, "zero": false},
"axis": {"orient": "bottom", "offset": -12, "values": [123, 180, 240, 300, 360, 420, 480, 540, 600, 660, 720, 780, 840, 900, 960, 1020, 1080],
"labelExpr": "datum.value < 130 ? '02:00' : (floor(datum.value/60) < 10 ? '0' : '') + floor(datum.value/60) + ':00'",
"labelAlign": {"condition": {"test": "datum.value < 130", "value": "left"}, "value": "center"},
"labelFlush": false, "labelOverlap": false, "domain": false, "ticks": false, "tickSize": 0, "grid": false, "labelBaseline": "middle", "labelPadding": 0,
"labelFontSize": 13, "labelColor": "#131722", "labelFont": "Roboto",
"title": "TradingView", "titleX": 23, "titleY": 31, "titleAlign": "left", "titleBaseline": "middle", "titleFontSize": 13, "titleFontWeight": "normal", "titleColor": "#131722", "titleFont": "Roboto"}},
"y": {"field": "l", "type": "quantitative", "scale": {"domain": [3395.4, 3690.7], "nice": false, "zero": false},
"axis": {"orient": "right", "offset": -47, "values": [3450, 3550, 3600, 3650], "labelExpr": "format(datum.value/10000, '.4f')",
"domain": false, "ticks": false, "tickSize": 0, "grid": false, "labelPadding": 0, "labelFontSize": 13, "labelColor": "#131722", "labelFont": "Roboto",
"title": "TV", "titleAngle": 0, "titleX": -1820, "titleY": 338, "titleAlign": "left", "titleBaseline": "middle", "titleFontSize": 13, "titleFontWeight": 900, "titleColor": "#131722", "titleFont": "Lato"}},
"y2": {"field": "h"},
"color": {"condition": {"test": "datum.c >= datum.o", "value": "#089981"}, "value": "#f23645"}
}
},
{
"data": {"name": "k"},
"mark": {"type": "bar", "size": 1.6},
"encoding": {
"x": {"field": "t", "type": "quantitative"},
"y": {"field": "o", "type": "quantitative"},
"y2": {"field": "c"},
"color": {"condition": {"test": "datum.c >= datum.o", "value": "#089981"}, "value": "#f23645"}
}
},
{
"data": {"name": "pc"},
"mark": {"type": "rect", "color": "#787b86", "cornerRadius": 2},
"encoding": {
"x": {"datum": 1076.5, "type": "quantitative"},
"x2": {"datum": 1111.6},
"y": {"datum": 3504.6, "type": "quantitative"},
"y2": {"datum": 3489.8}
}
},
{
"data": {"name": "pc"},
"mark": {"type": "rect", "color": "#787b86", "cornerRadius": 2},
"encoding": {
"x": {"datum": 1112.2, "type": "quantitative"},
"x2": {"datum": 1140.6},
"y": {"datum": 3504.6, "type": "quantitative"},
"y2": {"datum": 3489.8}
}
},
{
"data": {"name": "pc"},
"mark": {"type": "text", "color": "#ffffff", "fontSize": 12.5, "font": "Roboto", "align": "center", "baseline": "middle"},
"encoding": {
"x": {"datum": 1094.0, "type": "quantitative"},
"y": {"field": "p", "type": "quantitative"},
"text": {"field": "name"}
}
},
{
"data": {"name": "pc"},
"mark": {"type": "text", "color": "#ffffff", "fontSize": 12.5, "font": "Roboto", "align": "center", "baseline": "middle"},
"encoding": {
"x": {"datum": 1126.4, "type": "quantitative"},
"y": {"field": "p", "type": "quantitative"},
"text": {"field": "val"}
}
}
]
}
